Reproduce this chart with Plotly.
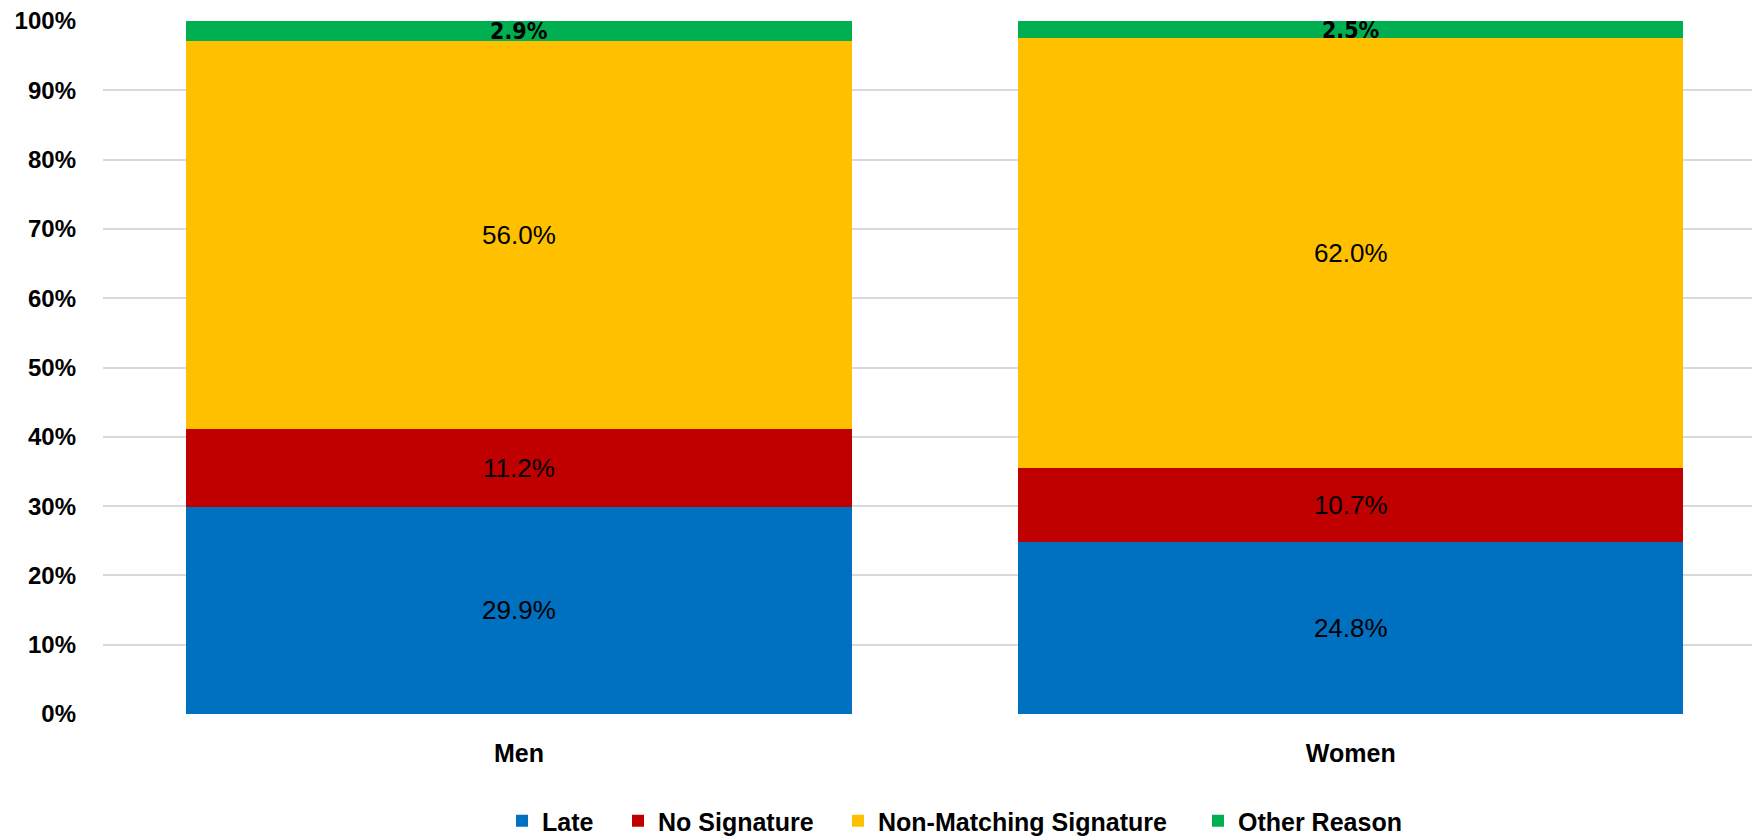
import plotly.graph_objects as go

categories = ["Men", "Women"]
series_names = ["Late", "No Signature", "Non-Matching Signature", "Other Reason"]
late = [0.299, 0.248]
no_signature = [0.112, 0.107]
non_matching = [0.560, 0.620]
other_reason = [0.029, 0.025]
y_ticks = [0, 0.1, 0.2, 0.3, 0.4, 0.5, 0.6, 0.7, 0.8, 0.9, 1.0]

colors = ["#0070C0", "#C00000", "#FFC000", "#00B050"]
values = [late, no_signature, non_matching, other_reason]

# the page body adds an 8px offset; work in figure coordinates
OFF = 8
W, H = 1760 - OFF, 836 - OFF
L, R, T = 103 - OFF, 0, 21 - OFF
B = H - (714 - OFF)
PW = W - L - R
PH = H - T - B

# legend text start positions (page pixels) -> legend left edge = text start - 40
legend_text_px = [542, 658, 878, 1238]
legend_y = ((714 - OFF) - (821 - OFF)) / PH

fig = go.Figure()
for i, (name, vals, col) in enumerate(zip(series_names, values, colors)):
    if i == 3:
        tf = dict(family="DejaVu Sans Condensed, Liberation Sans Narrow, Liberation Sans",
                  size=23, color="black", weight="bold")
    else:
        tf = dict(family="Liberation Sans", size=26, color="black")
    fig.add_trace(go.Bar(
        name=name, x=categories, y=vals, marker=dict(color=col, line=dict(width=0)),
        text=[f"{v*100:.1f}%" for v in vals],
        textposition="inside", insidetextanchor="middle", constraintext="none",
        textangle=0, textfont=tf, width=0.8,
        legend="legend" if i == 0 else f"legend{i+1}",
    ))

legend_common = dict(orientation="h", xanchor="left", yanchor="middle", y=legend_y,
                     bgcolor="rgba(0,0,0,0)", borderwidth=0,
                     font=dict(family="Liberation Sans", size=25, color="black", weight="bold"))
layout_legends = {}
for i, px in enumerate(legend_text_px):
    key = "legend" if i == 0 else f"legend{i+1}"
    layout_legends[key] = dict(legend_common, x=((px - OFF) - 40 - L) / PW)

fig.update_layout(
    barmode="stack",
    width=W, height=H,
    margin=dict(l=L, r=R, t=T, b=B, autoexpand=False),
    paper_bgcolor="white", plot_bgcolor="white",
    font=dict(family="Liberation Sans", size=24, color="black"),
    showlegend=True,
    uniformtext=dict(mode=False),
    **layout_legends,
)
fig.update_xaxes(range=[-0.5, 1.492], showgrid=False, showline=False, zeroline=False,
                 automargin=False, ticklabeloverflow="allow",
                 tickfont=dict(family="Liberation Sans", size=25, color="black", weight="bold"),
                 ticklabelstandoff=22)
fig.update_yaxes(range=[0, 1], tickvals=y_ticks, tickformat=".0%",
                 showgrid=True, gridcolor="#D9D9D9", gridwidth=2, zeroline=False,
                 automargin=False, ticklabeloverflow="allow",
                 tickfont=dict(family="Liberation Sans", size=24, color="black", weight="bold"),
                 ticklabelstandoff=26)

fig.write_html("out.html")
